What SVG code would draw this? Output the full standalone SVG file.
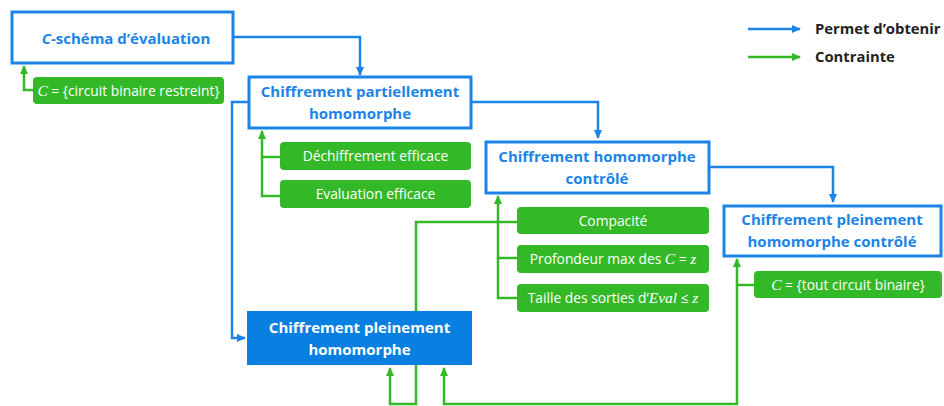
<svg xmlns="http://www.w3.org/2000/svg" width="944" height="406" viewBox="0 0 944 406">
<style>
.bx{fill:#fff;stroke:#1b84e6;stroke-width:3}
.bxf{fill:#0a7fe2;stroke:#0a7fe2;stroke-width:1}
.pill{fill:#33b927}
.bt{font-family:"Open Sans","Liberation Sans",sans-serif;font-weight:bold;font-size:15px;fill:#1b84e6;text-anchor:middle}
.wt{font-family:"Open Sans","Liberation Sans",sans-serif;font-weight:bold;font-size:15px;fill:#fff;text-anchor:middle}
.pt{font-family:"Open Sans","Liberation Sans",sans-serif;font-size:13.8px;fill:#fff;text-anchor:middle}
.lt{font-family:"Open Sans","Liberation Sans",sans-serif;font-weight:bold;font-size:14.8px;fill:#222}
.m{font-family:"Liberation Serif",serif;font-style:italic;font-size:15.5px}
.bl{fill:none;stroke:#1b84e6;stroke-width:2.5}
.gr{fill:none;stroke:#33b927;stroke-width:2.5}
</style>
<defs>
<marker id="ab" markerWidth="10" markerHeight="10" refX="8" refY="5" orient="auto" markerUnits="userSpaceOnUse"><path d="M0,1 L9,5 L0,9 Z" fill="#1b84e6"/></marker>
<marker id="ag" markerWidth="10" markerHeight="10" refX="8" refY="5" orient="auto" markerUnits="userSpaceOnUse"><path d="M0,1 L9,5 L0,9 Z" fill="#33b927"/></marker>
</defs>
<g id="connectors">
<path class="bl" d="M234,37 H360 V75" marker-end="url(#ab)"/>
<path class="bl" d="M248,102 H232 V338 H245" marker-end="url(#ab)"/>
<path class="bl" d="M471,102 H598 V138" marker-end="url(#ab)"/>
<path class="bl" d="M709,167 H833 V202" marker-end="url(#ab)"/>
<path class="gr" d="M33,90 H24 V66" marker-end="url(#ag)"/>
<path class="gr" d="M280,157 H262 V131" marker-end="url(#ag)"/>
<path class="gr" d="M280,196 H262 V157"/>
<path class="gr" d="M517,258 H498 V196" marker-end="url(#ag)"/>
<path class="gr" d="M517,298 H498 V258"/>
<path class="gr" d="M517,222 H416 V404 H390 V368" marker-end="url(#ag)"/>
<path class="gr" d="M754,285 H737 V259" marker-end="url(#ag)"/>
<path class="gr" d="M737,285 V404 H444 V368" marker-end="url(#ag)"/>
<path class="bl" d="M748,29 H800" marker-end="url(#ab)"/>
<path class="gr" d="M748,57 H800" marker-end="url(#ag)"/>
</g>
<g id="legend">
<text class="lt" x="815" y="34">Permet d’obtenir</text>
<text class="lt" x="815" y="62">Contrainte</text>
</g>
<g id="n1">
<rect class="bx" x="12" y="12" width="221" height="51"/>
<text class="bt" x="126" y="44"><tspan font-style="italic">C</tspan>-schéma d’évaluation</text>
</g>
<g id="p1">
<rect class="pill" x="33" y="77" width="191" height="27" rx="4"/>
<text class="pt" x="128.5" y="95.5"><tspan class="m">C</tspan> = {circuit binaire restreint}</text>
</g>
<g id="n2">
<rect class="bx" x="249" y="77" width="222" height="51"/>
<text class="bt" x="360" y="97">Chiffrement partiellement</text>
<text class="bt" x="360" y="119">homomorphe</text>
</g>
<g id="p2">
<rect class="pill" x="280" y="142" width="191" height="28" rx="4"/>
<text class="pt" x="375.5" y="161">Déchiffrement efficace</text>
</g>
<g id="p3">
<rect class="pill" x="280" y="180" width="191" height="28" rx="4"/>
<text class="pt" x="375.5" y="199">Evaluation efficace</text>
</g>
<g id="n3">
<rect class="bx" x="486" y="142" width="223" height="51"/>
<text class="bt" x="597" y="162">Chiffrement homomorphe</text>
<text class="bt" x="597" y="184">contrôlé</text>
</g>
<g id="p4">
<rect class="pill" x="517" y="207" width="192" height="27" rx="4"/>
<text class="pt" x="613" y="225.5">Compacité</text>
</g>
<g id="p5">
<rect class="pill" x="517" y="245" width="192" height="28" rx="4"/>
<text class="pt" x="613" y="264">Profondeur max des <tspan class="m">C</tspan> = <tspan class="m">z</tspan></text>
</g>
<g id="p6">
<rect class="pill" x="517" y="284" width="192" height="28" rx="4"/>
<text class="pt" x="613" y="303">Taille des sorties d’<tspan class="m">Eval</tspan> ≤ <tspan class="m">z</tspan></text>
</g>
<g id="n4">
<rect class="bx" x="724" y="206" width="217" height="50"/>
<text class="bt" x="832" y="225">Chiffrement pleinement</text>
<text class="bt" x="832" y="247">homomorphe contrôlé</text>
</g>
<g id="p7">
<rect class="pill" x="754" y="271" width="188" height="27" rx="4"/>
<text class="pt" x="848" y="289.5"><tspan class="m">C</tspan> = {tout circuit binaire}</text>
</g>
<g id="n5">
<rect class="bxf" x="247.5" y="311.5" width="224" height="53"/>
<text class="wt" x="359.5" y="333">Chiffrement pleinement</text>
<text class="wt" x="359.5" y="355">homomorphe</text>
</g>
</svg>
